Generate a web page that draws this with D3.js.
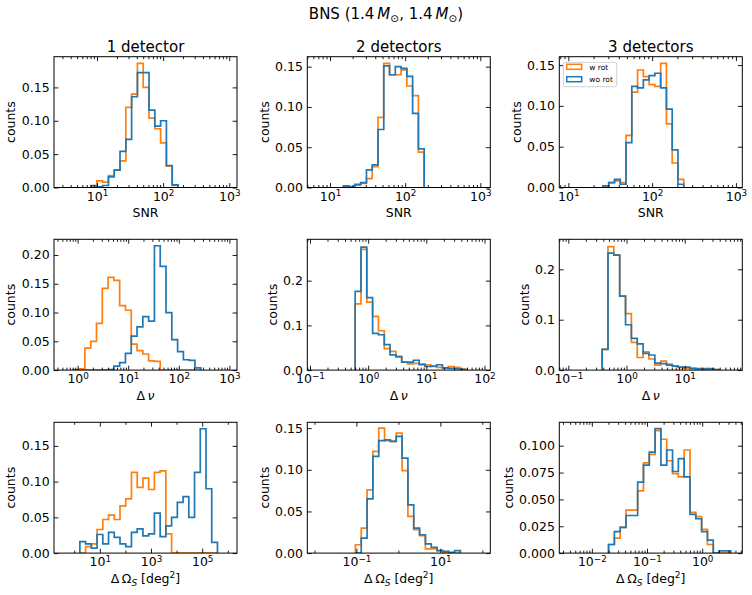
<!DOCTYPE html>
<html>
<head>
<meta charset="utf-8">
<script src="https://cdn.jsdelivr.net/npm/d3@7"></script>
<style>
  body { margin: 0; background: #fff; }
  svg { font-family: "DejaVu Sans", sans-serif; }
</style>
</head>
<body>
<svg id="fig" width="752" height="595"></svg>
<script>
// log10 of first and last bin edge (bins are log-spaced), then the two normalised histograms
const snr1Bins = [0.91, 2.225]
const snr1WRot = [0.001, 0.010, 0.008, 0.018, 0.026, 0.040, 0.120, 0.140, 0.186, 0.150, 0.104, 0.088, 0.067, 0.032, 0.003]
const snr1WoRot = [0.003, 0.001, 0.003, 0.016, 0.026, 0.054, 0.072, 0.136, 0.172, 0.172, 0.116, 0.092, 0.100, 0.033, 0.004]

const snr2Bins = [1.178, 2.253]
const snr2WRot = [0.001, 0.000, 0.003, 0.005, 0.011, 0.026, 0.087, 0.154, 0.140, 0.140, 0.146, 0.126, 0.114, 0.044]
const snr2WoRot = [0.002, 0.001, 0.004, 0.006, 0.022, 0.028, 0.072, 0.151, 0.140, 0.150, 0.148, 0.138, 0.092, 0.048]

const snr3Bins = [1.413, 2.377]
const snr3WRot = [0.001, 0.006, 0.008, 0.006, 0.064, 0.117, 0.144, 0.136, 0.126, 0.124, 0.152, 0.078, 0.030, 0.010]
const snr3WoRot = [0.002, 0.006, 0.010, 0.004, 0.055, 0.124, 0.122, 0.132, 0.137, 0.140, 0.122, 0.096, 0.046, 0.004]

const dnu1Bins = [-0.085, 2.434]
const dnu1WRot = [0.001, 0.002, 0.038, 0.050, 0.081, 0.142, 0.161, 0.156, 0.112, 0.104, 0.045, 0.034, 0.028, 0.016, 0.015, 0, 0, 0, 0, 0, 0, 0]
const dnu1WoRot = [0, 0, 0, 0, 0, 0, 0.001, 0.007, 0.013, 0.029, 0.059, 0.075, 0.093, 0.085, 0.216, 0.180, 0.100, 0.053, 0.032, 0.018, 0.017, 0.004]

const dnu2Bins = [-0.223, 1.677]
const dnu2WRot = [0.148, 0.270, 0.152, 0.120, 0.088, 0.048, 0.042, 0.030, 0.018, 0.014, 0.015, 0.014, 0.012, 0.008, 0.006, 0.005, 0.008, 0.006, 0.002]
const dnu2WoRot = [0.176, 0.275, 0.162, 0.082, 0.079, 0.057, 0.034, 0.030, 0.018, 0.018, 0.022, 0.012, 0.008, 0.009, 0.012, 0.005, 0.004, 0.003, 0.001]

const dnu3Bins = [-0.419, 1.593]
const dnu3WRot = [0.041, 0.245, 0.228, 0.147, 0.112, 0.055, 0.025, 0.036, 0.022, 0.010, 0.018, 0.012, 0.008, 0.005, 0.004, 0.004, 0.002, 0.003, 0.002, 0.001]
const dnu3WoRot = [0.041, 0.232, 0.228, 0.147, 0.090, 0.063, 0.052, 0.033, 0.030, 0.014, 0.013, 0.010, 0.008, 0.006, 0.006, 0.003, 0.003, 0.002, 0.003, 0.001]

const dOm1Bins = [0.221, 5.597]
const dOm1WRot = [0, 0.009, 0.013, 0.033, 0.047, 0.053, 0.047, 0.066, 0.076, 0.113, 0.092, 0.105, 0.089, 0.113, 0.115, 0.027, 0, 0, 0, 0, 0, 0, 0, 0]
const dOm1WoRot = [0.016, 0.013, 0.007, 0.026, 0.013, 0.029, 0.022, 0.013, 0.009, 0.029, 0.034, 0.024, 0.027, 0.056, 0.023, 0.038, 0.050, 0.071, 0.079, 0.050, 0.113, 0.174, 0.090, 0.015]

const dOm2Bins = [-1.024, 1.478]
const dOm2WRot = [0.010, 0.030, 0.076, 0.122, 0.150, 0.135, 0.134, 0.144, 0.099, 0.044, 0.028, 0.021, 0.005, 0.005, 0.003, 0.001, 0, 0]
const dOm2WoRot = [0, 0.018, 0.065, 0.116, 0.135, 0.136, 0.134, 0.140, 0.114, 0.058, 0.030, 0.022, 0.011, 0.007, 0.003, 0.002, 0.001, 0.003]

const dOm3Bins = [-1.697, 0.517]
const dOm3WRot = [0.008, 0.014, 0.024, 0.040, 0.040, 0.058, 0.084, 0.092, 0.114, 0.106, 0.086, 0.074, 0.071, 0.096, 0.038, 0.034, 0.022, 0.008, 0, 0, 0]
const dOm3WoRot = [0.008, 0.020, 0.024, 0.035, 0.035, 0.066, 0.082, 0.094, 0.116, 0.082, 0.096, 0.076, 0.088, 0.071, 0.036, 0.032, 0.020, 0.012, 0, 0.002, 0.002]

// tick labels
const colTitles = ['1 detector', '2 detectors', '3 detectors']
const seriesLabels = ['w rot', 'wo rot']
const yTicks2 = [0, 0.05, 0.10, 0.15]
const yTicks2b = [0, 0.05, 0.10, 0.15, 0.20]
const yTicks1 = [0, 0.1, 0.2]
const yTicks3 = [0, 0.025, 0.050, 0.075, 0.100]

const orange = '#ff7f0e'
const blue = '#1f77b4'

const panels = [
  { row: 0, col: 0, bins: snr1Bins, wRot: snr1WRot, woRot: snr1WoRot, xlim: [0.35, 3.117], ymax: 0.196, yTicks: yTicks2, yFmt: '.2f', xMajor: [1, 2, 3], stride: 1 },
  { row: 0, col: 1, bins: snr2Bins, wRot: snr2WRot, woRot: snr2WoRot, xlim: [0.698, 3.133], ymax: 0.1624, yTicks: yTicks2, yFmt: '.2f', xMajor: [1, 2, 3], stride: 1 },
  { row: 0, col: 2, bins: snr3Bins, wRot: snr3WRot, woRot: snr3WoRot, xlim: [0.892, 3.076], ymax: 0.1603, yTicks: yTicks2, yFmt: '.2f', xMajor: [1, 2, 3], stride: 1, legend: true },
  { row: 1, col: 0, bins: dnu1Bins, wRot: dnu1WRot, woRot: dnu1WoRot, xlim: [-0.467, 3.15], ymax: 0.2272, yTicks: yTicks2b, yFmt: '.2f', xMajor: [0, 1, 2, 3], stride: 1 },
  { row: 1, col: 1, bins: dnu2Bins, wRot: dnu2WRot, woRot: dnu2WoRot, xlim: [-1.046, 2.1], ymax: 0.2925, yTicks: yTicks1, yFmt: '.1f', xMajor: [-1, 0, 1, 2], stride: 1 },
  { row: 1, col: 2, bins: dnu3Bins, wRot: dnu3WRot, woRot: dnu3WoRot, xlim: [-1.155, 1.99], ymax: 0.2596, yTicks: yTicks1, yFmt: '.1f', xMajor: [-1, 0, 1], stride: 1 },
  { row: 2, col: 0, bins: dOm1Bins, wRot: dOm1WRot, woRot: dOm1WoRot, xlim: [-0.79, 6.36], ymax: 0.183, yTicks: yTicks2, yFmt: '.2f', xMajor: [1, 3, 5], stride: 2 },
  { row: 2, col: 1, bins: dOm2Bins, wRot: dOm2WRot, woRot: dOm2WoRot, xlim: [-2.17, 2.19], ymax: 0.157, yTicks: yTicks2, yFmt: '.2f', xMajor: [-1, 1], stride: 2 },
  { row: 2, col: 2, bins: dOm3Bins, wRot: dOm3WRot, woRot: dOm3WoRot, xlim: [-2.59, 0.727], ymax: 0.1218, yTicks: yTicks3, yFmt: '.3f', xMajor: [-2, -1, 0], stride: 1 },
]

const colLeft = [54, 307.3, 559.3]
const rowTop = [56.7, 239.3, 422.3]
const axW = 183
const axH = 130.8
const majorLen = 4.4
const minorLen = 2.5

const svg = d3.select('#fig')

// suptitle
const title = svg.append('text').attr('x', 386).attr('y', 19).attr('text-anchor', 'middle').attr('font-size', 15)
title.append('tspan').text('BNS (1.4\u2009')
title.append('tspan').attr('font-style', 'italic').text('M')
title.append('tspan').attr('font-size', 10.5).attr('dy', 3).text('\u2299')
title.append('tspan').attr('dy', -3).text(', 1.4\u2009')
title.append('tspan').attr('font-style', 'italic').text('M')
title.append('tspan').attr('font-size', 10.5).attr('dy', 3).text('\u2299')
title.append('tspan').attr('dy', -3).text(')')

function styleAxis(sel) {
  sel.select('.domain').remove()
  sel.selectAll('.tick line').attr('stroke', '#000').attr('stroke-width', 0.9)
  sel.attr('font-size', 12.5).attr('font-family', '"DejaVu Sans", sans-serif')
  sel.selectAll('.tick text').attr('fill', '#000')
}

function drawXLabel(g, row) {
  const t = g.append('text').attr('x', axW / 2).attr('y', axH + 30).attr('text-anchor', 'middle').attr('font-size', 12.5)
  if (row === 0) {
    t.text('SNR')
  } else if (row === 1) {
    t.append('tspan').text('\u0394\u2009')
    t.append('tspan').attr('font-style', 'italic').text('\u03bd')
  } else {
    t.append('tspan').text('\u0394\u2009\u03a9')
    t.append('tspan').attr('font-style', 'italic').attr('font-size', 9).attr('dy', 2.5).text('S')
    t.append('tspan').attr('dy', -2.5).text(' [deg')
    t.append('tspan').attr('font-size', 9).attr('dy', -5).text('2')
    t.append('tspan').attr('dy', 5).text(']')
  }
}

panels.forEach((p, idx) => {
  const g = svg.append('g').attr('transform', `translate(${colLeft[p.col]},${rowTop[p.row]})`)

  const x = d3.scaleLog().domain(p.xlim.map((v) => 10 ** v)).range([0, axW])
  const y = d3.scaleLinear().domain([0, p.ymax]).range([axH, 0])

  const n = p.wRot.length
  const edges = d3.range(n + 1).map((i) => 10 ** (p.bins[0] + (i * (p.bins[1] - p.bins[0])) / n))
  const stepPts = (counts) => [
    [edges[0], 0],
    ...counts.flatMap((c, i) => [[edges[i], c], [edges[i + 1], c]]),
    [edges[n], 0],
  ]
  const line = d3.line().x((d) => x(d[0])).y((d) => y(d[1]))

  g.append('clipPath').attr('id', `clip${idx}`)
    .append('rect').attr('width', axW).attr('height', axH)

  const hist = g.append('g').attr('clip-path', `url(#clip${idx})`)
  hist.append('path')
    .attr('d', line(stepPts(p.wRot)))
    .attr('fill', 'none').attr('stroke', orange).attr('stroke-width', 1.7)
  hist.append('path')
    .attr('d', line(stepPts(p.woRot)))
    .attr('fill', 'none').attr('stroke', blue).attr('stroke-width', 1.7)

  // minor x ticks
  const lo = Math.floor(p.xlim[0])
  const hi = Math.ceil(p.xlim[1])
  const minors = []
  for (let d = lo; d <= hi; d++) {
    if (p.stride === 1) {
      for (let k = 2; k <= 9; k++) minors.push(k * 10 ** d)
    } else if (!p.xMajor.includes(d)) {
      minors.push(10 ** d)
    }
  }
  const minorIn = minors.filter((v) => v >= x.domain()[0] && v <= x.domain()[1])

  g.append('g').attr('transform', `translate(0,${axH})`)
    .call(d3.axisBottom(x).tickValues(minorIn).tickSizeInner(-minorLen).tickSizeOuter(0).tickFormat(''))
    .call(styleAxis)
  g.append('g')
    .call(d3.axisTop(x).tickValues(minorIn).tickSizeInner(-minorLen).tickSizeOuter(0).tickFormat(''))
    .call(styleAxis)

  // major x ticks
  const majors = p.xMajor.map((e) => 10 ** e)
  const gx = g.append('g').attr('transform', `translate(0,${axH})`)
    .call(d3.axisBottom(x).tickValues(majors).tickSizeInner(-majorLen).tickSizeOuter(0).tickPadding(4.4).tickFormat(''))
    .call(styleAxis)
  gx.selectAll('.tick text').each(function (d) {
    const t = d3.select(this)
    const e = Math.round(Math.log10(d))
    t.append('tspan').text('10')
    t.append('tspan').attr('font-size', 8.8).attr('dy', '-0.5em').text(e < 0 ? '\u2212' + -e : String(e))
  })
  g.append('g')
    .call(d3.axisTop(x).tickValues(majors).tickSizeInner(-majorLen).tickSizeOuter(0).tickFormat(''))
    .call(styleAxis)

  // y ticks
  const gy = g.append('g')
    .call(d3.axisLeft(y).tickValues(p.yTicks).tickFormat(d3.format(p.yFmt)).tickSizeInner(-majorLen).tickSizeOuter(0).tickPadding(4.4))
    .call(styleAxis)
  g.append('g').attr('transform', `translate(${axW},0)`)
    .call(d3.axisRight(y).tickValues(p.yTicks).tickSizeInner(-majorLen).tickSizeOuter(0).tickFormat(''))
    .call(styleAxis)

  // frame
  g.append('rect').attr('width', axW).attr('height', axH)
    .attr('fill', 'none').attr('stroke', '#000').attr('stroke-width', 1)

  // y label
  const bb = gy.node().getBBox()
  g.append('text')
    .attr('transform', `translate(${bb.x - 6.5},${axH / 2}) rotate(-90)`)
    .attr('text-anchor', 'middle').attr('font-size', 12.5)
    .text('counts')

  drawXLabel(g, p.row)

  if (p.row === 0) {
    g.append('text').attr('x', axW / 2).attr('y', -5).attr('text-anchor', 'middle')
      .attr('font-size', 15).text(colTitles[p.col])
  }

  if (p.legend) {
    const lg = g.append('g').attr('transform', 'translate(4,5.6)')
    lg.append('rect').attr('width', 53.4).attr('height', 24.4).attr('rx', 2)
      .attr('fill', '#fff').attr('fill-opacity', 0.8).attr('stroke', '#cccccc').attr('stroke-width', 0.9)
    ;[orange, blue].forEach((c, i) => {
      lg.append('rect').attr('x', 3.4).attr('y', 2 + i * 12.4).attr('width', 15).attr('height', 5)
        .attr('fill', 'none').attr('stroke', c).attr('stroke-width', 1.5)
      lg.append('text').attr('x', 26).attr('y', 7.4 + i * 12.4).attr('font-size', 7.5).text(seriesLabels[i])
    })
  }
})
</script>
</body>
</html>
